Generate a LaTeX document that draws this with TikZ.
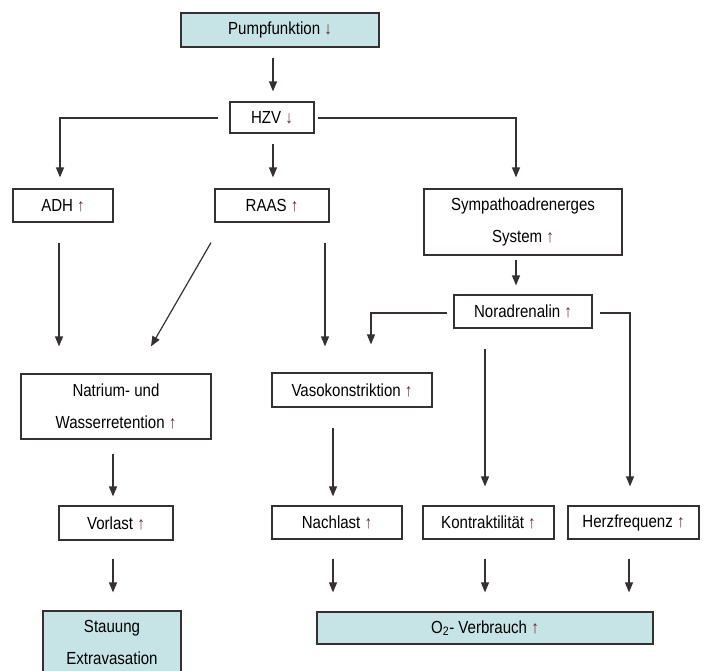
\documentclass[tikz,border=0pt]{standalone}
\usepackage{fontspec}
\setmainfont[FakeStretch=0.86]{Liberation Sans}
\usetikzlibrary{arrows.meta,calc}
\definecolor{boxfill}{RGB}{198,228,230}
\definecolor{linecol}{RGB}{55,48,48}
\definecolor{upcol}{RGB}{105,35,40}
\newcommand{\arrUp}{\textcolor{upcol}{↑}}
\newcommand{\arrDn}{\textcolor{upcol}{↓}}
\begin{document}
\begin{tikzpicture}[x=1pt,y=-1pt,
  box/.style={draw=linecol, line width=1.2pt, inner sep=0pt, align=center,
    font=\fontsize{17.5}{32}\selectfont, text=black},
  hl/.style={box, fill=boxfill},
  arr/.style={draw=linecol, line width=1.2pt, -{Triangle[width=8pt,length=10pt]}}]
\useasboundingbox (0,0) rectangle (706,670);
\clip (0,0) rectangle (706,670);

% nodes
\node[hl,  minimum width=198pt, minimum height=34pt] (pump) at (280,30) {Pumpfunktion \arrDn};
\node[box, minimum width=84pt,  minimum height=31pt] (hzv)  at (272,117.5) {HZV \arrDn};
\node[box, minimum width=100pt, minimum height=33pt] (adh)  at (63,205.5) {ADH \arrUp};
\node[box, minimum width=114pt, minimum height=33pt] (raas) at (272,205.5) {RAAS \arrUp};
\node[box, minimum width=198pt, minimum height=66pt] (symp) at (523,222) {Sympathoadrenerges\\System \arrUp};
\node[box, minimum width=138pt, minimum height=33pt] (nor)  at (523,311.5) {Noradrenalin \arrUp};
\node[box, minimum width=190pt, minimum height=65pt] (natr) at (116,406.5) {Natrium- und\\Wasserretention \arrUp};
\node[box, minimum width=160pt, minimum height=34pt] (vaso) at (352,390) {Vasokonstriktion \arrUp};
\node[box, minimum width=114pt, minimum height=34pt] (vorl) at (116,523) {Vorlast \arrUp};
\node[box, minimum width=130pt, minimum height=33pt] (nach) at (337,522.5) {Nachlast \arrUp};
\node[box, minimum width=131pt, minimum height=33pt] (kont) at (488.5,522.5) {Kontraktilität \arrUp};
\node[box, minimum width=131pt, minimum height=33pt] (herz) at (633.5,522.5) {Herzfrequenz \arrUp};
\node[hl,  minimum width=138pt, minimum height=63.5pt] (stau) at (112,642.75) {Stauung\\Extravasation};
\node[hl,  minimum width=336pt, minimum height=32pt] (o2) at (485,628) {O\textsubscript{2}- Verbrauch \arrUp};

% connectors
\draw[arr] ($(pump.south)+(-7,10)$) -- ($(hzv.north)+(1,-10)$);
\draw[arr] ($(hzv.west)+(-11,0.5)$) -| ($(adh.north)+(-3,-11)$);
\draw[arr] ($(hzv.south)+(1,10)$) -- ($(raas.north)+(1,-11)$);
\draw[arr] ($(hzv.east)+(3,0.5)$) -| ($(symp.north)+(-7,-11)$);
\draw[arr] ($(adh.south)+(-4,20)$) -- ($(natr.north)+(-57,-27)$);
\draw[arr] ($(raas.south)+(-61,20)$) -- ($(natr.north)+(35,-27)$);
\draw[arr] ($(raas.south)+(53,20)$) -- ($(vaso.north)+(-27,-26)$);
\draw[arr] ($(symp.south)+(-7,4)$) -- ($(nor.north)+(-7,-9)$);
\draw[arr] ($(nor.west)+(-6,1.5)$) -| ($(vaso.north)+(19,-28)$);
\draw[arr] ($(nor.east)+(7,1.5)$) -| ($(herz.north)+(-3.5,-19)$);
\draw[arr] ($(nor.south)+(-38,20)$) -- ($(kont.north)+(-3.5,-19)$);
\draw[arr] ($(natr.south)+(-3,14)$) -- ($(vorl.north)+(-3,-9)$);
\draw[arr] ($(vaso.south)+(-19,20)$) -- ($(nach.north)+(-4,-9)$);
\draw[arr] ($(vorl.south)+(-3,18)$) -- ($(stau.north)+(1,-18)$);
\draw[arr] ($(nach.south)+(-4,19)$) -- ($(o2.north)+(-152,-19)$);
\draw[arr] ($(kont.south)+(-3.5,19)$) -- ($(o2.north)+(0,-19)$);
\draw[arr] ($(herz.south)+(-4.5,19)$) -- ($(o2.north)+(144,-19)$);
\end{tikzpicture}
\end{document}
